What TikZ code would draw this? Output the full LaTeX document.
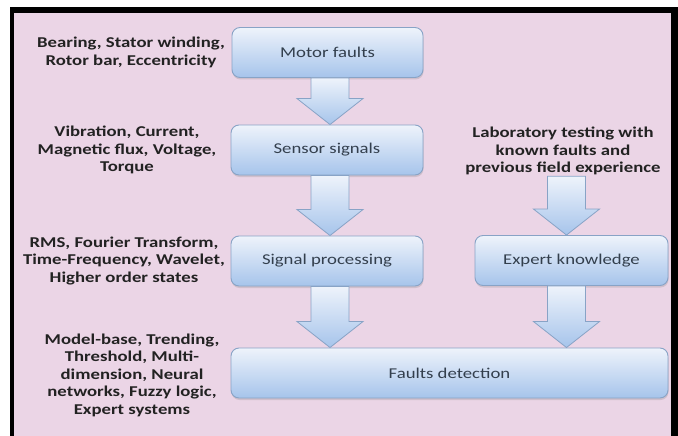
\documentclass[tikz,border=0pt]{standalone}
\usepackage{fontspec}
\setmainfont[FakeStretch=1.25]{Carlito}
\usetikzlibrary{calc,shadows}

\definecolor{bgpink}{HTML}{EBD5E6}
\definecolor{boxtop}{HTML}{EEF3FB}
\definecolor{boxbot}{HTML}{A6C4EB}
\definecolor{boxline}{HTML}{88A3C6}
\definecolor{boxtext}{HTML}{333F4D}
\definecolor{labtext}{HTML}{222222}

\tikzset{
  stage/.style={draw=boxline, line width=0.9pt, rounded corners=8pt,
    top color=boxtop, bottom color=boxbot,
    drop shadow={opacity=0.25, shadow xshift=0.5pt, shadow yshift=-2pt},
    font=\fontsize{15}{17.5}\selectfont, text=boxtext,
    minimum height=50pt, inner sep=0pt},
  note/.style={align=center, text=labtext,
    font=\fontsize{15}{17.5}\selectfont\bfseries, inner sep=1pt},
  flowarrow/.style={draw=boxline, line width=0.8pt,
    top color=boxtop, bottom color=boxbot, line join=miter},
}

% block arrow from the bottom of #2 to the top of #3, shifted sideways by #1
\newcommand\flowto[3][0pt]{%
  \path[flowarrow] let \p1=(#2), \p2=($(#3)+(#1,0)$) in
    (\x2-19pt,\y1) -- (\x2+19pt,\y1) -- (\x2+19pt,\y2+26pt) --
    (\x2+33pt,\y2+26pt) -- (\x2,\y2) -- (\x2-33pt,\y2+26pt) --
    (\x2-19pt,\y2+26pt) -- cycle;}

\begin{document}
\begin{tikzpicture}[x=1pt,y=-1pt]
\useasboundingbox (0,0) rectangle (678,436);
\fill[black] (10,7) rectangle (678,436);
\fill[bgpink] (14,13) rectangle (671,436);

% process stages
\node[stage, minimum width=191pt] (motor)  at (327.5,52.5) {Motor faults};
\node[stage, minimum width=192pt] (sensor) at (327,150)    {Sensor signals};
\node[stage, minimum width=192pt] (proc)   at (327,261)    {Signal processing};
\node[stage, minimum width=193pt] (expert) at (571.5,260.5){Expert knowledge};
\node[stage, minimum width=437pt] (detect) at (449.5,373)  {Faults detection};

% side notes
\node[note] (n1) at (131,52.5) {Bearing, Stator winding,\\Rotor bar, Eccentricity};
\node[note] (n2) at (127,150) {Vibration, Current,\\Magnetic flux, Voltage,\\Torque};
\node[note] (n3) at (124,261) {RMS, Fourier Transform,\\Time-Frequency, Wavelet,\\Higher order states};
\node[note] (n4) at (132,375) {Model-base, Trending,\\Threshold, Multi-\\dimension, Neural\\networks, Fuzzy logic,\\Expert systems};
\node[note] (n5) at (563,151) {Laboratory testing with\\known faults and\\previous field experience};

% flow arrows
\flowto[3pt]{motor.south}{sensor.north}
\flowto[3pt]{sensor.south}{proc.north}
\flowto[-5pt]{n5.south}{expert.north}
\flowto[3pt]{proc.south}{detect.north -| proc.south}
\flowto[-5pt]{expert.south}{detect.north -| expert.south}
\end{tikzpicture}
\end{document}
